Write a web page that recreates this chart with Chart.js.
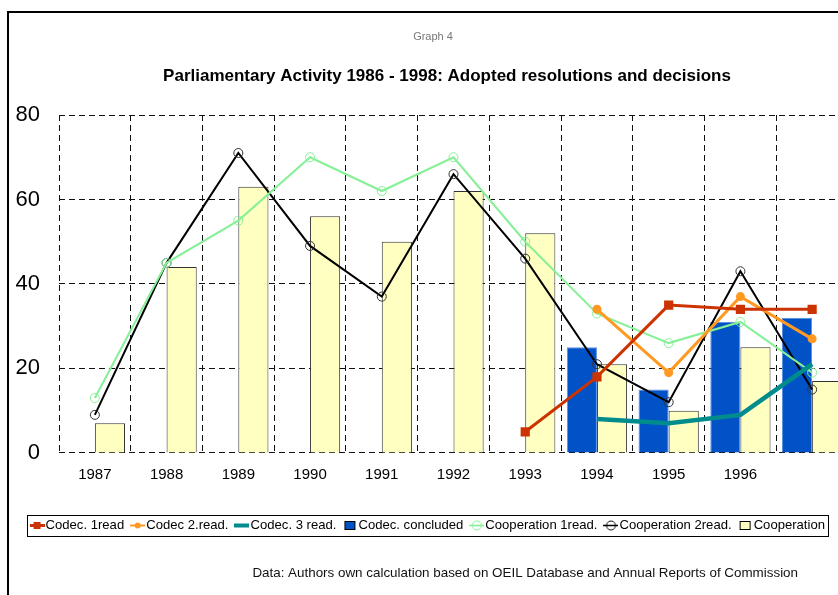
<!DOCTYPE html>
<html>
<head>
<meta charset="utf-8">
<script src="https://cdn.jsdelivr.net/npm/chart.js@4"></script>
<style>
  html, body { margin: 0; padding: 0; background: #fff; overflow: hidden; }
  #wrap { position: relative; width: 838px; height: 595px; overflow: hidden; }
  #frame { position: absolute; left: 7px; top: 11px; width: 1200px; height: 1200px; border: 2px solid #000; }
  #chart { position: absolute; left: 0; top: 0; width: 894px; height: 595px; }
</style>
</head>
<body>
<div id="wrap">
  <div id="frame"></div>
  <canvas id="chart" width="894" height="595"></canvas>
</div>
<script>
// ── data ──────────────────────────────────────────────
const years = ["1987", "1988", "1989", "1990", "1991", "1992", "1993", "1994", "1995", "1996", "1997"];
const codec1Read = [null, null, null, null, null, null, 5, 18, 35, 34, 34];
const codec2Read = [null, null, null, null, null, null, null, 34, 19, 37, 27];
const codec3Read = [null, null, null, null, null, null, null, 8, 7, 9, 21];
const codecConcluded = [null, null, null, null, null, null, null, 25, 15, 31, 32];
const coop1Read = [13, 45, 55, 70, 62, 70, 50, 33, 26, 31, 19];
const coop2Read = [9, 45, 71, 49, 37, 66, 46, 21, 12, 43, 15];
const cooperation = [7, 44, 63, 56, 50, 62, 52, 21, 10, 25, 17];
const yTicks = [0, 20, 40, 60, 80];

const graphLabel = "Graph 4";
const mainTitle = "Parliamentary Activity 1986 - 1998: Adopted resolutions and decisions";
const footnote = "Data: Authors own calculation based on OEIL Database and Annual Reports of Commission";

const FONT = '"Liberation Sans", Arial, sans-serif';

// legend icons, drawn the way the old spreadsheet legend did
function lineIcon(color, width, marker) {
  const c = document.createElement("canvas");
  c.width = 15; c.height = 11;
  const g = c.getContext("2d");
  if (marker === "ring") {
    g.strokeStyle = color; g.lineWidth = 1;
    g.beginPath(); g.arc(7.5, 5.5, 4.5, 0, Math.PI * 2); g.stroke();
  }
  g.strokeStyle = color; g.lineWidth = width;
  g.beginPath(); g.moveTo(0, 5.5); g.lineTo(15, 5.5); g.stroke();
  g.fillStyle = color;
  if (marker === "rect") g.fillRect(4, 2, 7, 7);
  if (marker === "dot") { g.beginPath(); g.arc(7.5, 5.5, 3, 0, Math.PI * 2); g.fill(); }
  return c;
}
function boxIcon(fill, stroke) {
  const c = document.createElement("canvas");
  c.width = 13; c.height = 11;
  const g = c.getContext("2d");
  g.fillStyle = fill; g.fillRect(1, 1, 11, 9);
  g.strokeStyle = stroke; g.lineWidth = 1; g.strokeRect(1.5, 1.5, 10, 8);
  return c;
}

const RED = "#cc3300", ORANGE = "#ff9922", TEAL = "#008c8c", BLUE = "#0052c6", GREEN = "#86f096", YELLOW = "#ffffc2";

const icons = [
  lineIcon(RED, 3, "rect"),
  lineIcon(ORANGE, 2, "dot"),
  lineIcon(TEAL, 4, null),
  boxIcon(BLUE, "#000"),
  lineIcon(GREEN, 1.5, "ring"),
  lineIcon("#000", 1.5, "ring"),
  boxIcon(YELLOW, "#000"),
];

// titles, footnote and the box round the legend
const decor = {
  id: "decor",
  afterDraw(chart) {
    const ctx = chart.ctx;
    ctx.save();
    ctx.textAlign = "center";
    ctx.textBaseline = "middle";
    ctx.fillStyle = "#777";
    ctx.font = "11px " + FONT;
    ctx.fillText(graphLabel, 433, 37);
    ctx.fillStyle = "#000";
    ctx.font = "bold 17px " + FONT;
    ctx.fillText(mainTitle, 447, 76);
    ctx.textAlign = "right";
    ctx.fillStyle = "#111";
    ctx.font = "13.4px " + FONT;
    ctx.fillText(footnote, 798, 573);

    const hb = chart.legend.legendHitBoxes;
    if (hb && hb.length) {
      const first = hb[0], last = hb[hb.length - 1];
      const x0 = Math.round(first.left - 8.5) + 0.5;
      const x1 = Math.round(last.left + last.width + 3) + 0.5;
      const y0 = Math.round(first.top - 4) + 0.5;
      const y1 = Math.round(first.top + first.height + 4) + 0.5;
      ctx.strokeStyle = "#000";
      ctx.lineWidth = 1;
      ctx.strokeRect(x0, y0, x1 - x0, y1 - y0);
    }
    ctx.restore();
  },
};

const lineBase = { type: "line", tension: 0, order: 0, spanGaps: false };

new Chart(document.getElementById("chart"), {
  type: "bar",
  data: {
    labels: years,
    datasets: [
      { ...lineBase, label: "Codec. 1read", data: codec1Read, borderColor: RED, backgroundColor: RED, borderWidth: 3,
        pointStyle: "rect", pointRadius: 6.5, pointBackgroundColor: RED, pointBorderWidth: 0 },
      { ...lineBase, label: "Codec 2.read.", data: codec2Read, borderColor: ORANGE, backgroundColor: ORANGE, borderWidth: 3,
        pointStyle: "circle", pointRadius: 4.5, pointBackgroundColor: ORANGE, pointBorderWidth: 0 },
      { ...lineBase, label: "Codec. 3 read.", data: codec3Read, borderColor: TEAL, backgroundColor: TEAL, borderWidth: 4.5,
        pointRadius: 0 },
      { label: "Codec. concluded", data: codecConcluded, backgroundColor: BLUE, borderColor: "#5d8ee0", borderWidth: 1, order: 5 },
      { ...lineBase, label: "Cooperation 1read.", data: coop1Read, borderColor: GREEN, backgroundColor: GREEN, borderWidth: 2,
        pointStyle: "circle", pointRadius: 4.5, pointBackgroundColor: "rgba(0,0,0,0)", pointBorderColor: GREEN, pointBorderWidth: 1 },
      { ...lineBase, label: "Cooperation 2read.", data: coop2Read, borderColor: "#000", backgroundColor: "#000", borderWidth: 2,
        pointStyle: "circle", pointRadius: 4.5, pointBackgroundColor: "rgba(0,0,0,0)", pointBorderColor: "#333", pointBorderWidth: 1 },
      { label: "Cooperation", data: cooperation, backgroundColor: YELLOW, borderColor: "#333", borderWidth: 1, order: 5 },
    ],
  },
  options: {
    responsive: false,
    animation: false,
    devicePixelRatio: 1,
    datasets: { bar: { categoryPercentage: 0.84, barPercentage: 1 } },
    layout: { padding: { top: 115, left: 12, right: 46, bottom: 53 } },
    plugins: {
      title: { display: false },
      tooltip: { enabled: false },
      legend: {
        position: "bottom",
        align: "center",
        labels: {
          usePointStyle: true,
          pointStyleWidth: 4,
          padding: 11.5,
          color: "#000",
          font: { family: FONT, size: 13.1 },
          generateLabels: (chart) => chart.data.datasets.map((ds, i) => ({
            text: ds.label, pointStyle: icons[i], datasetIndex: i, hidden: false, lineWidth: 0,
            fillStyle: "transparent", strokeStyle: "transparent",
          })),
        },
      },
    },
    scales: {
      x: {
        offset: true,
        grid: { offset: true, color: "#111", lineWidth: 1, drawTicks: false },
        border: { display: false, dash: [6, 4] },
        ticks: {
          color: "#000", padding: 13, autoSkip: false, maxRotation: 0,
          font: { family: FONT, size: 15 },
          callback: (v, i) => (i < years.length - 1 ? years[i] : ""),
        },
        afterFit: (s) => { s.height = 54.5; },
      },
      y: {
        min: 0, max: 80,
        afterBuildTicks: (s) => { s.ticks = yTicks.map((v) => ({ value: v })); },
        grid: { color: "#111", lineWidth: 1, drawTicks: false },
        border: { display: false, dash: [6, 4] },
        ticks: { color: "#000", padding: 19, font: { family: FONT, size: 22 } },
        afterFit: (s) => { s.width = 47; },
      },
    },
  },
  plugins: [decor],
});
</script>
</body>
</html>
